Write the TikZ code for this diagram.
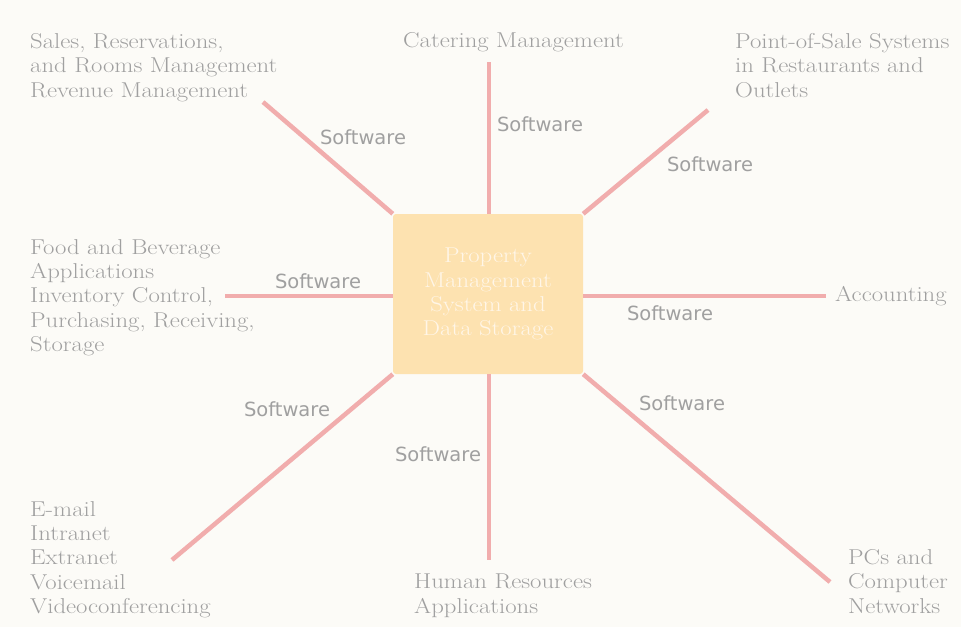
\documentclass[tikz,border=0pt]{standalone}
\usepackage{fontspec}
\setmainfont{Latin Modern Roman}[FakeStretch=1.15]
\newfontfamily\swfont{DejaVu Sans}
\definecolor{bgc}{HTML}{FCFBF7}
\definecolor{boxc}{HTML}{FDE2B0}
\definecolor{linec}{HTML}{F1ADAD}
\definecolor{txtc}{HTML}{A0A0A0}
\definecolor{boxtxt}{HTML}{FFF6E8}
\begin{document}
\begin{tikzpicture}[x=1pt,y=-1pt,
  lbl/.style={anchor=north west,inner sep=0pt,align=left,text=txtc,font=\fontsize{21.5}{24.4}\selectfont},
  sw/.style={inner sep=0pt,text=txtc,font=\swfont\fontsize{19.5}{22}\selectfont},
  conn/.style={draw=linec,line width=4.5pt},
  pmsbox/.style={fill=boxc,rounded corners=3pt,minimum width=190pt,minimum height=160pt,inner sep=0pt,align=center,text=boxtxt,font=\fontsize{21.5}{24.2}\selectfont}]
\fill[bgc] (0,0) rectangle (961,627);
\useasboundingbox (0,0) rectangle (961,627);
% endpoints
\coordinate (eT) at (489,62);
\coordinate (eUL) at (263,102);
\coordinate (eUR) at (708,110);
\coordinate (eL) at (225,296);
\coordinate (eR) at (826,296);
\coordinate (eLL) at (172,560);
\coordinate (eB) at (489,560);
\coordinate (eLR) at (830,582);
\node[pmsbox] (pms) at (488,294) {Property\\Management\\System and\\Data Storage};
\draw[conn] (pms.north west) -- (eUL);
\draw[conn] (pms.north -| eT) -- (eT);
\draw[conn] (pms.north east) -- (eUR);
\draw[conn] (pms.west |- eL) -- (eL);
\draw[conn] (pms.east |- eR) -- (eR);
\draw[conn] (pms.south west) -- (eLL);
\draw[conn] (pms.south -| eB) -- (eB);
\draw[conn] (pms.south east) -- (eLR);
% labels
\node[lbl] (sales) at (30,33) {Sales, Reservations,\\and Rooms Management\\Revenue Management};
\node[lbl] (cat) at (403,32) {Catering Management};
\node[lbl] (pos) at (735,33) {Point-of-Sale Systems\\in Restaurants and\\Outlets};
\node[lbl] (food) at (30,239) {Food and Beverage\\Applications\\Inventory Control,\\Purchasing, Receiving,\\Storage};
\node[lbl] (acc) at (835,286) {Accounting};
\node[lbl] (mail) at (30,501) {E-mail\\Intranet\\Extranet\\Voicemail\\Videoconferencing};
\node[lbl] (hr) at (414,574) {Human Resources\\Applications};
\node[lbl] (pcs) at (848,549) {PCs and\\Computer\\Networks};
% software labels
\node[sw] (s1) at (363,137) {Software};
\node[sw] (s2) at (540,124) {Software};
\node[sw] (s3) at (710,164) {Software};
\node[sw] (s4) at (318,281) {Software};
\node[sw] (s5) at (670,313) {Software};
\node[sw] (s6) at (287,409) {Software};
\node[sw] (s7) at (438,454) {Software};
\node[sw] (s8) at (682,403) {Software};
\end{tikzpicture}
\end{document}
